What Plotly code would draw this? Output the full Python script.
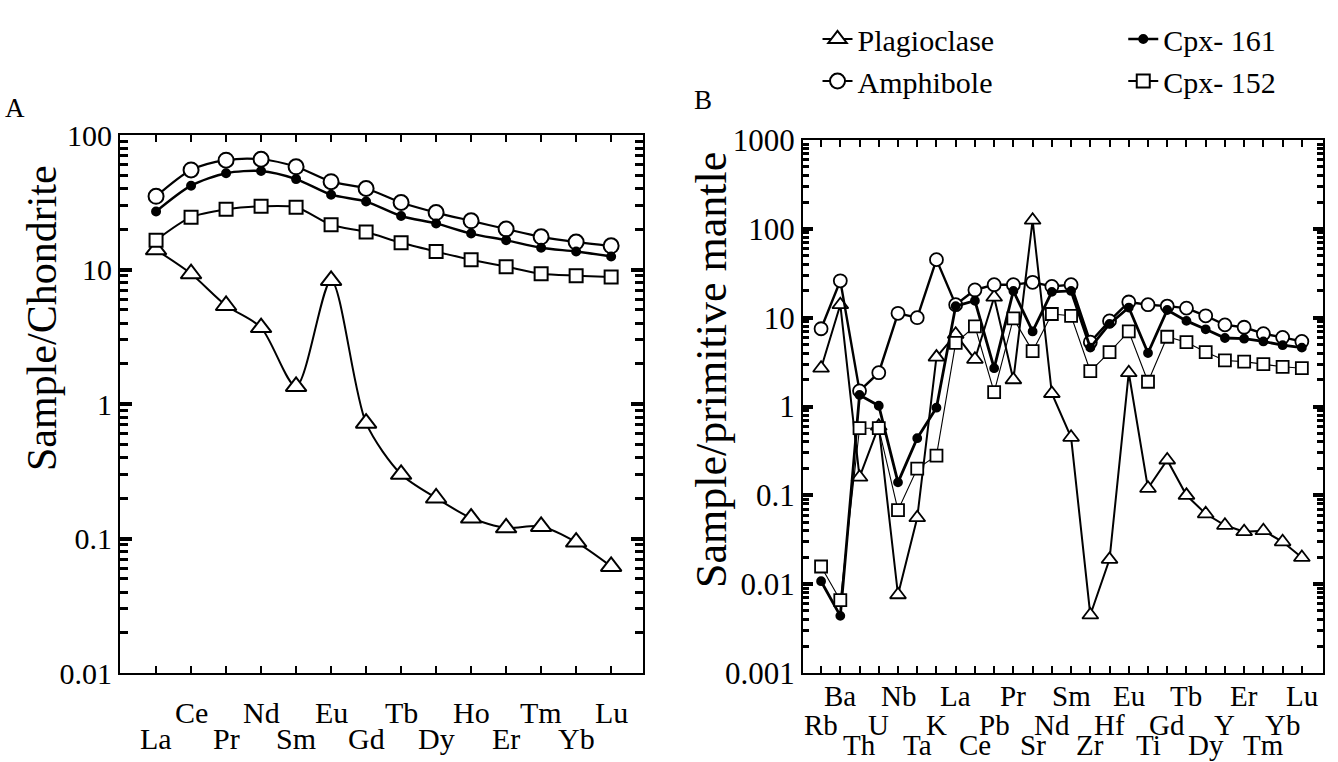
import plotly.graph_objects as go

# ---------------- data ----------------
ree = ["La", "Ce", "Pr", "Nd", "Sm", "Eu", "Gd", "Tb", "Dy", "Ho", "Er", "Tm", "Yb", "Lu"]
plag_A = [14, 9.3, 5.4, 3.7, 1.35, 8.3, 0.72, 0.30, 0.20, 0.142, 0.12, 0.123, 0.094, 0.062]
amph_A = [35, 55, 65, 66, 58, 45, 40, 31.5, 26.5, 23, 20, 17.5, 16, 15]
cpx161_A = [27, 42, 52, 54, 47, 36, 32, 25, 22, 18.5, 16.5, 14.5, 13.6, 12.5]
cpx152_A = [16.5, 24.5, 28, 29.5, 29, 21.5, 19, 15.8, 13.6, 11.8, 10.5, 9.3, 9.0, 8.8]

spider = ["Rb", "Ba", "Th", "U", "Nb", "Ta", "K", "La", "Ce", "Pb", "Pr", "Sr", "Nd",
          "Sm", "Zr", "Hf", "Eu", "Ti", "Gd", "Tb", "Dy", "Y", "Er", "Tm", "Yb", "Lu"]
plag_B = [2.7, 14, 0.16, 0.6, 0.0076, 0.056, 3.6, 6.5, 3.4, 17, 2.0, 125, 1.4, 0.45,
          0.0045, 0.019, 2.4, 0.12, 0.25, 0.1, 0.062, 0.046, 0.039, 0.040, 0.030, 0.020]
amph_B = [7.5, 26, 1.5, 2.4, 11.2, 10, 45, 14, 20.5, 23.5, 23.5, 25, 22.5, 23.5,
          5.3, 9.2, 15, 14, 13.5, 12.8, 10.5, 8.3, 7.8, 6.6, 6.0, 5.4]
cpx161_B = [0.0108, 0.0044, 1.35, 1.02, 0.14, 0.44, 0.97, 13.5, 15.5, 2.7, 20, 7.0, 19.5,
            20, 4.6, 8.5, 13, 4.0, 12.2, 9.2, 7.4, 5.9, 5.8, 5.4, 4.9, 4.6]
cpx152_B = [0.0158, 0.0066, 0.57, 0.57, 0.068, 0.2, 0.28, 5.2, 8.0, 1.45, 9.8, 4.2, 11,
            10.5, 2.5, 4.1, 7.0, 1.9, 6.1, 5.3, 4.1, 3.3, 3.2, 3.0, 2.8, 2.7]

# label stagger levels (0 = high, 1 = mid, 2 = low)
ree_levels = [1, 0] * 7
spider_levels = [1, 0, 2] * 8 + [1, 0]

FONT = "'Liberation Serif', 'Times New Roman', 'DejaVu Serif', serif"
W, H = 1338, 762

fig = go.Figure()

series = [
    # name, A, B, symbol, fill, size A, size B, line A, line B, legend
    ("Plagioclase", plag_A, plag_B, "triangle-up", "white", 18, 14, 2, 2, "legend"),
    ("Amphibole", amph_A, amph_B, "circle", "white", 15, 13, 2.2, 2.4, "legend"),
    ("Cpx- 161", cpx161_A, cpx161_B, "circle", "black", 8, 8, 2.4, 2.8, "legend2"),
    ("Cpx- 152", cpx152_A, cpx152_B, "square", "white", 13, 12, 2, 1.1, "legend2"),
]

for name, ya, yb, sym, fill, msa, msb, lwa, lwb, lg in series:
    fig.add_trace(go.Scatter(
        x=list(range(len(ree))), y=ya, mode="lines+markers", name=name,
        line=dict(color="black", width=lwa, shape="spline", smoothing=0.8),
        marker=dict(symbol=sym, size=msa, color=fill, line=dict(color="black", width=2)),
        xaxis="x", yaxis="y", legend=lg, showlegend=True))
    fig.add_trace(go.Scatter(
        x=list(range(len(spider))), y=yb, mode="lines+markers", name=name,
        line=dict(color="black", width=lwb),
        marker=dict(symbol=sym, size=msb, color=fill, line=dict(color="black", width=1.8)),
        xaxis="x2", yaxis="y2", showlegend=False))

axis_common = dict(showline=True, linecolor="black", linewidth=2, mirror="allticks",
                   showgrid=False, zeroline=False, ticks="inside", tickcolor="black",
                   automargin=False)

fig.update_layout(
    width=W, height=H, margin=dict(l=0, r=0, t=0, b=0, autoexpand=False),
    paper_bgcolor="white", plot_bgcolor="white",
    font=dict(family=FONT, color="black"),
    xaxis=dict(domain=[120 / W, 643 / W], range=[-1.03, 13.91], tickmode="array",
               tickvals=list(range(len(ree))), showticklabels=False, ticklen=7,
               tickwidth=2, anchor="y", **axis_common),
    yaxis=dict(domain=[89 / H, 627 / H], type="log", range=[-2, 2], tickmode="array",
               tickvals=[0.01, 0.1, 1, 10, 100], ticktext=["0.01", "0.1", "1", "10", "100"],
               ticklen=12, tickwidth=3.5, tickfont=dict(size=30, family=FONT),
               ticklabelstandoff=0, anchor="x",
               minor=dict(ticks="inside", ticklen=8, tickwidth=3, tickcolor="black",
                          dtick="D1", showgrid=False),
               **axis_common),
    xaxis2=dict(domain=[803 / W, 1323 / W], range=[-0.94, 26.1], tickmode="array",
                tickvals=list(range(len(spider))), showticklabels=False, ticklen=7,
                tickwidth=2, anchor="y2", **axis_common),
    yaxis2=dict(domain=[89 / H, 622 / H], type="log", range=[-3, 3], tickmode="array",
                tickvals=[0.001, 0.01, 0.1, 1, 10, 100, 1000],
                ticktext=["0.001", "0.01", "0.1", "1", "10", "100", "1000"],
                ticklen=10, tickwidth=3.5, tickfont=dict(size=31, family=FONT),
                ticklabelstandoff=0, anchor="x2",
                minor=dict(ticks="inside", ticklen=6, tickwidth=2.5, tickcolor="black",
                           dtick="D1", showgrid=False),
                **axis_common),
    legend=dict(x=0.611, y=1 - 13 / H, xanchor="left", yanchor="top",
                font=dict(size=30, family=FONT), bgcolor="rgba(0,0,0,0)",
                tracegroupgap=0, itemsizing="trace"),
    legend2=dict(x=0.8395, y=1 - 13 / H, xanchor="left", yanchor="top",
                 font=dict(size=30, family=FONT), bgcolor="rgba(0,0,0,0)",
                 tracegroupgap=0, itemsizing="trace"),
)

annotations = []
ypos_A = {0: 712, 1: 738}
for i, (lab, lev) in enumerate(zip(ree, ree_levels)):
    annotations.append(dict(x=i, y=1 - ypos_A[lev] / H, xref="x", yref="paper",
                            text=lab, showarrow=False, xanchor="center", yanchor="middle",
                            font=dict(size=30, family=FONT)))
ypos_B = {0: 696, 1: 725, 2: 745}
for i, (lab, lev) in enumerate(zip(spider, spider_levels)):
    annotations.append(dict(x=i, y=1 - ypos_B[lev] / H, xref="x2", yref="paper",
                            text=lab, showarrow=False, xanchor="center", yanchor="middle",
                            font=dict(size=29, family=FONT)))
# panel letters
annotations.append(dict(x=15 / W, y=1 - 108 / H, xref="paper", yref="paper", text="A",
                        showarrow=False, xanchor="center", yanchor="middle",
                        font=dict(size=27, family=FONT)))
annotations.append(dict(x=703 / W, y=1 - 100 / H, xref="paper", yref="paper", text="B",
                        showarrow=False, xanchor="center", yanchor="middle",
                        font=dict(size=27, family=FONT)))
# axis titles
annotations.append(dict(x=42 / W, y=1 - 318 / H, xref="paper", yref="paper",
                        text="Sample/Chondrite", textangle=-90, showarrow=False,
                        xanchor="center", yanchor="middle", font=dict(size=42, family=FONT)))
annotations.append(dict(x=712 / W, y=1 - 370 / H, xref="paper", yref="paper",
                        text="Sample/primitive mantle", textangle=-90, showarrow=False,
                        xanchor="center", yanchor="middle", font=dict(size=44, family=FONT)))
fig.update_layout(annotations=annotations)

fig.write_html("out.html", config={"displayModeBar": False},
               post_script="document.body.style.margin='0';document.body.style.overflow='hidden';")
